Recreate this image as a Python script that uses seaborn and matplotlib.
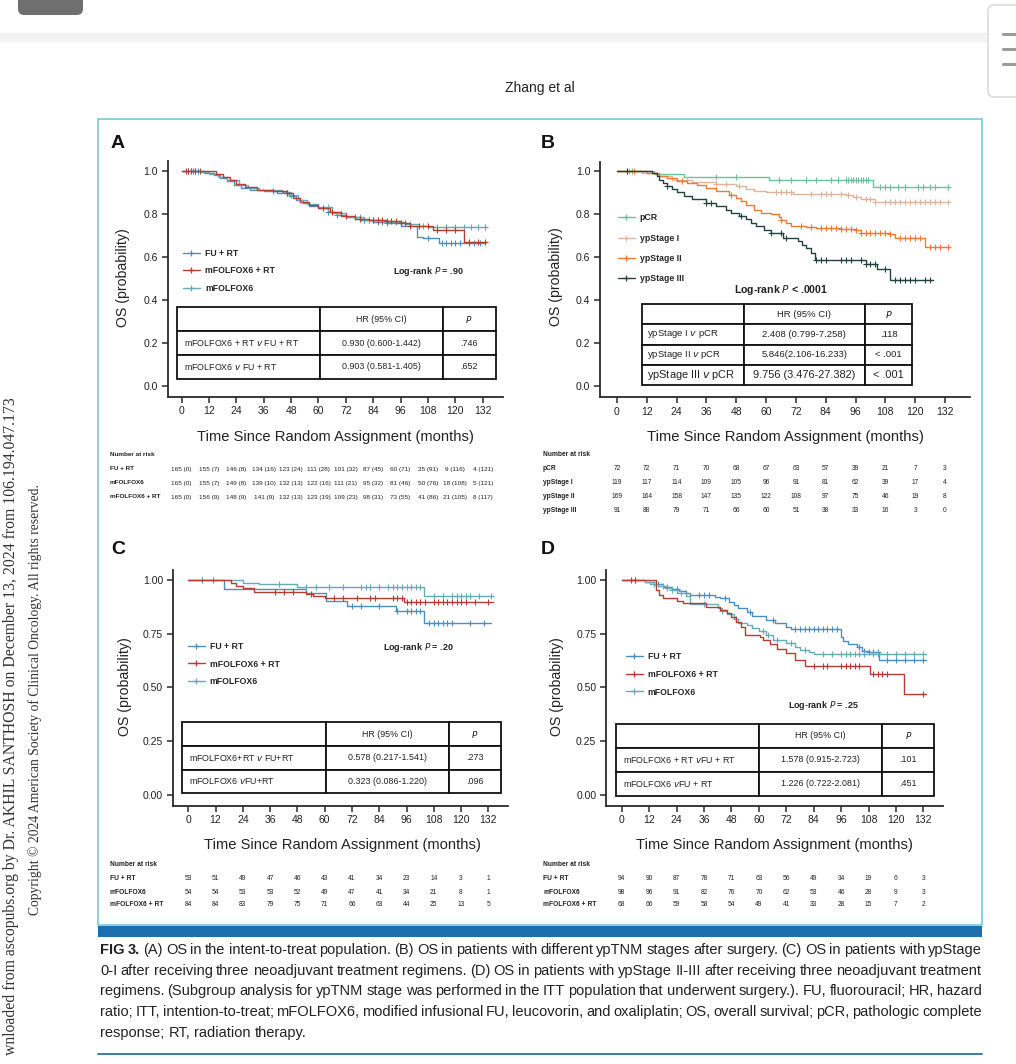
import numpy as np
import pandas as pd
import matplotlib
matplotlib.use("Agg")
import matplotlib.pyplot as plt
import seaborn as sns
from matplotlib import font_manager
from matplotlib.lines import Line2D
from matplotlib.patches import Rectangle, FancyBboxPatch
from matplotlib.transforms import blended_transform_factory

sns.set_style("ticks")
_names = {f.name for f in font_manager.fontManager.ttflist}
SANS = "Liberation Sans" if "Liberation Sans" in _names else "DejaVu Sans"
NARROW = "Liberation Sans Narrow" if "Liberation Sans Narrow" in _names else SANS
SERIF = "Liberation Serif" if "Liberation Serif" in _names else "DejaVu Serif"
plt.rcParams["font.family"] = [SANS, "DejaVu Sans"]

W, H = 1016, 1064
MONTH_TICKS = [0, 12, 24, 36, 48, 60, 72, 84, 96, 108, 120, 132]

# colours
C_FU_RT = "#4d8ec0"
C_MF6_RT = "#b23f36"
C_MF6 = "#68abb4"
C_PCR = "#6cc29f"
C_YP1 = "#ddb59d"
C_YP2 = "#ee7a3a"
C_YP3 = "#23443e"

# ---------------- Panel A: ITT population ----------------
A_FU_RT_T = [0, 10, 14, 17, 20, 23, 26, 30, 36, 42, 47, 50, 53, 56, 60, 64, 68, 72, 78, 84, 90, 96, 103, 106, 113, 133]
A_FU_RT_S = [1.0, 0.99, 0.98, 0.965, 0.95, 0.935, 0.92, 0.91, 0.905, 0.895, 0.88, 0.865, 0.85, 0.835, 0.825,
             0.81, 0.795, 0.785, 0.77, 0.762, 0.755, 0.745, 0.69, 0.685, 0.663, 0.663]
A_FU_RT_CENS = [3, 5, 7, 40, 46, 64, 68, 76, 80, 82, 86, 88, 90, 108, 114, 116, 118, 120, 122, 126, 128, 131]

A_MF6_RT_T = [0, 15, 18, 21, 24, 28, 33, 40, 46, 49, 52, 56, 60, 65, 70, 76, 82, 90, 96, 100, 110, 124, 134]
A_MF6_RT_S = [1.0, 0.985, 0.97, 0.955, 0.94, 0.925, 0.91, 0.905, 0.895, 0.875, 0.855, 0.84, 0.825, 0.81, 0.79,
              0.775, 0.77, 0.765, 0.755, 0.745, 0.725, 0.668, 0.668]
A_MF6_RT_CENS = [2, 3, 4, 6, 8, 46, 62, 66, 72, 78, 84, 86, 88, 90, 92, 94, 96, 98, 100, 104, 108, 112, 116,
                 120, 126, 130, 133]

A_MF6_T = [0, 8, 12, 16, 20, 25, 29, 34, 44, 48, 51, 55, 60, 66, 72, 80, 88, 98, 104, 108, 134]
A_MF6_S = [1.0, 0.995, 0.985, 0.97, 0.955, 0.935, 0.92, 0.91, 0.9, 0.885, 0.865, 0.845, 0.83, 0.805, 0.785,
           0.77, 0.76, 0.75, 0.745, 0.737, 0.737]
A_MF6_CENS = [4, 6, 48, 64, 70, 78, 82, 84, 86, 90, 94, 100, 106, 112, 116, 120, 124, 127, 130, 133]

A_HR_ROWS = [["mFOLFOX6 + RT $v$ FU + RT", "0.930 (0.600-1.442)", ".746"],
             ["mFOLFOX6 $v$ FU + RT", "0.903 (0.581-1.405)", ".652"]]
A_LOGRANK = "Log-rank $P$ = .90"
A_RISK_LABELS = ["FU + RT", "mFOLFOX6", "mFOLFOX6 + RT"]
A_RISK = [
    ["165 (0)", "155 (7)", "146 (8)", "134 (16)", "123 (24)", "111 (28)", "101 (32)", "87 (45)", "60 (71)",
     "35 (91)", "9 (116)", "4 (121)"],
    ["165 (0)", "155 (7)", "149 (8)", "139 (10)", "132 (13)", "122 (16)", "111 (21)", "95 (32)", "81 (46)",
     "50 (76)", "18 (108)", "5 (121)"],
    ["165 (0)", "156 (9)", "148 (9)", "141 (9)", "132 (13)", "123 (19)", "109 (23)", "98 (31)", "73 (55)",
     "41 (86)", "21 (105)", "8 (117)"],
]

# ---------------- Panel B: ypTNM stages ----------------
B_PCR_T = [0, 15, 27, 61, 103, 134]
B_PCR_S = [1.0, 0.986, 0.972, 0.958, 0.927, 0.927]
B_PCR_CENS = [6, 40, 48, 65, 70, 76, 80, 86, 89, 92, 93, 94, 95, 96, 97, 98, 99, 100, 101, 106, 108, 110,
              113, 116, 121, 123, 126, 128, 133]

B_YP1_T = [0, 10, 16, 22, 30, 40, 48, 52, 55, 60, 71, 92, 95, 98, 104, 134]
B_YP1_S = [1.0, 0.99, 0.975, 0.96, 0.947, 0.94, 0.93, 0.915, 0.905, 0.9, 0.895, 0.888, 0.878, 0.868, 0.855, 0.855]
B_YP1_CENS = [5, 28, 40, 44, 49, 64, 66, 68, 70, 78, 82, 84, 86, 90, 93, 96, 100, 102, 104, 108, 110, 112,
              114, 116, 118, 120, 122, 124, 126, 128, 130, 133]

B_YP2_T = [0, 12, 17, 20, 24, 28, 32, 36, 40, 45, 48, 50, 52, 55, 58, 62, 65, 66, 68, 70, 76, 80, 90, 96,
           98, 110, 112, 124, 134]
B_YP2_S = [1.0, 0.99, 0.975, 0.965, 0.955, 0.945, 0.935, 0.92, 0.905, 0.89, 0.875, 0.86, 0.84, 0.82, 0.805,
           0.8, 0.785, 0.77, 0.76, 0.745, 0.74, 0.735, 0.73, 0.725, 0.71, 0.705, 0.69, 0.648, 0.648]
B_YP2_CENS = [7, 26, 46, 66, 74, 78, 82, 84, 86, 88, 90, 92, 94, 96, 98, 100, 102, 104, 106, 108, 110, 114,
              116, 118, 120, 122, 126, 128, 130, 133]

B_YP3_T = [0, 14, 16, 17, 18.5, 20, 22, 24, 27, 30, 36, 40, 44, 46, 49, 52, 54, 56, 59, 62, 67, 73, 74.5,
           76, 78, 79.5, 100, 104.5, 110, 127]
B_YP3_S = [1.0, 0.99, 0.975, 0.96, 0.945, 0.93, 0.915, 0.9, 0.885, 0.868, 0.85, 0.835, 0.82, 0.805, 0.79,
           0.775, 0.76, 0.745, 0.725, 0.71, 0.688, 0.675, 0.655, 0.64, 0.62, 0.586, 0.565, 0.543, 0.493, 0.493]
B_YP3_CENS = [4, 20, 36, 38, 50, 62, 66, 68, 80, 82, 84, 90, 92, 94, 98, 100, 102, 104, 108, 112, 114, 116,
              118, 120, 124, 126]

B_HR_ROWS = [["ypStage I $v$ pCR", "2.408 (0.799-7.258)", ".118"],
             ["ypStage II $v$ pCR", "5.846(2.106-16.233)", "< .001"],
             ["ypStage III $v$ pCR", "9.756 (3.476-27.382)", "< .001"]]
B_LOGRANK = "Log-rank $P$ < .0001"
B_RISK_LABELS = ["pCR", "ypStage I", "ypStage II", "ypStage III"]
B_RISK = [
    [72, 72, 71, 70, 68, 67, 63, 57, 39, 21, 7, 3],
    [119, 117, 114, 109, 105, 96, 91, 81, 62, 39, 17, 4],
    [169, 164, 158, 147, 135, 122, 108, 97, 75, 46, 19, 8],
    [91, 88, 79, 71, 66, 60, 51, 38, 33, 16, 3, 0],
]

# ---------------- Panel C: ypStage 0-I ----------------
C_FU_RT_T = [0, 15.5, 52, 60.5, 70, 91.5, 103.5, 133]
C_FU_RT_S = [1.0, 0.957, 0.936, 0.9, 0.876, 0.856, 0.8, 0.8]
C_FU_RT_CENS = [6, 11, 72, 76, 84, 92, 96, 98, 100, 102, 106, 108, 110, 112, 114, 116, 124, 130]

C_MF6_RT_T = [0, 19, 21, 24, 29, 52, 55, 60, 95, 134]
C_MF6_RT_S = [1.0, 0.985, 0.972, 0.96, 0.944, 0.932, 0.922, 0.913, 0.898, 0.898]
C_MF6_RT_CENS = [38, 42, 46, 54, 64, 68, 74, 80, 82, 90, 92, 94, 96, 98, 100, 102, 104, 108, 110, 112, 114,
                 116, 118, 120, 122, 126, 132]

C_MF6_T = [0, 24, 31, 48, 103.5, 134]
C_MF6_S = [1.0, 0.986, 0.98, 0.967, 0.924, 0.924]
C_MF6_CENS = [40, 52, 56, 62, 68, 76, 78, 80, 84, 88, 90, 92, 94, 96, 98, 100, 102, 108, 112, 116, 118, 120,
              122, 124, 128, 133]

C_HR_ROWS = [["mFOLFOX6+RT $v$ FU+RT", "0.578 (0.217-1.541)", ".273"],
             ["mFOLFOX6 $v$FU+RT", "0.323 (0.086-1.220)", ".096"]]
C_LOGRANK = "Log-rank $P$ = .20"
C_RISK_LABELS = ["FU + RT", "mFOLFOX6", "mFOLFOX6 + RT"]
C_RISK = [
    [53, 51, 49, 47, 46, 43, 41, 34, 23, 14, 3, 1],
    [54, 54, 53, 53, 52, 49, 47, 41, 34, 21, 8, 1],
    [84, 84, 83, 79, 75, 71, 66, 63, 44, 25, 13, 5],
]

# ---------------- Panel D: ypStage II-III ----------------
D_FU_RT_T = [0, 10, 14, 18, 22, 25, 28, 30, 41, 43, 47, 49, 51, 55, 57, 63, 67, 72, 74, 96, 97, 99, 103,
             105, 108, 112.5, 133]
D_FU_RT_S = [1.0, 0.988, 0.978, 0.967, 0.956, 0.946, 0.937, 0.93, 0.92, 0.913, 0.897, 0.883, 0.867, 0.851,
             0.831, 0.813, 0.797, 0.782, 0.769, 0.735, 0.715, 0.7, 0.689, 0.669, 0.662, 0.627, 0.627]
D_FU_RT_CENS = [6, 16, 20, 24, 28, 34, 36, 38, 45, 56, 66, 76, 78, 80, 82, 84, 86, 88, 90, 92, 94, 104, 106,
                108, 110, 112, 116, 120, 124, 128, 132]

D_MF6_RT_T = [0, 15, 16.5, 18, 24, 27, 37, 43, 46, 48, 50, 52, 54, 60.5, 62, 65, 68, 72, 76, 80, 108.5,
              123.5, 133]
D_MF6_RT_S = [1.0, 0.952, 0.93, 0.913, 0.9, 0.89, 0.875, 0.86, 0.845, 0.828, 0.805, 0.78, 0.745, 0.735, 0.72,
              0.7, 0.68, 0.66, 0.628, 0.6, 0.562, 0.469, 0.469]
D_MF6_RT_CENS = [4, 6, 84, 88, 90, 96, 98, 100, 102, 104, 110, 112, 114, 116, 132]

D_MF6_T = [0, 10, 12.5, 16, 20, 22, 24, 28, 30, 42, 44, 46, 49, 51, 55, 57, 60, 63, 66, 72, 76, 78, 82, 84, 133]
D_MF6_S = [1.0, 0.99, 0.982, 0.97, 0.96, 0.95, 0.94, 0.925, 0.885, 0.87, 0.855, 0.84, 0.816, 0.8, 0.79,
           0.774, 0.76, 0.743, 0.72, 0.704, 0.686, 0.673, 0.662, 0.655, 0.655]
D_MF6_CENS = [14, 18, 20, 22, 26, 36, 44, 50, 62, 64, 68, 74, 80, 88, 92, 96, 98, 100, 102, 104, 106, 110,
              112, 116, 120, 124, 128, 132]

D_HR_ROWS = [["mFOLFOX6 + RT $v$FU + RT", "1.578 (0.915-2.723)", ".101"],
             ["mFOLFOX6 $v$FU + RT", "1.226 (0.722-2.081)", ".451"]]
D_LOGRANK = "Log-rank $P$ = .25"
D_RISK_LABELS = ["FU + RT", "mFOLFOX6", "mFOLFOX6 + RT"]
D_RISK = [
    [94, 90, 87, 78, 71, 63, 56, 49, 34, 19, 6, 3],
    [98, 96, 91, 82, 76, 70, 62, 53, 46, 28, 9, 3],
    [68, 66, 59, 58, 54, 49, 41, 33, 28, 15, 7, 2],
]

TRIO_LABELS = ["FU + RT", "mFOLFOX6 + RT", "mFOLFOX6"]
STAGE_LABELS = ["pCR", "ypStage I", "ypStage II", "ypStage III"]

CAPTION = [
    "FIG 3. (A) OS in the intent-to-treat population. (B) OS in patients with different ypTNM stages after surgery. (C) OS in patients with ypStage",
    "0-I after receiving three neoadjuvant treatment regimens. (D) OS in patients with ypStage II-III after receiving three neoadjuvant treatment",
    "regimens. (Subgroup analysis for ypTNM stage was performed in the ITT population that underwent surgery.). FU, fluorouracil; HR, hazard",
    "ratio; ITT, intention-to-treat; mFOLFOX6, modified infusional FU, leucovorin, and oxaliplatin; OS, overall survival; pCR, pathologic complete",
    "response; RT, radiation therapy.",
]
SIDE_1 = "wnloaded from ascopubs.org by Dr. AKHIL SANTHOSH on December 13, 2024 from 106.194.047.173"
SIDE_2 = "Copyright \u00a9 2024 American Society of Clinical Oncology. All rights reserved."

fig = plt.figure(figsize=(W / 100, H / 100), dpi=100)
fig.patch.set_facecolor("white")


def fx(px):
    return px / W


def fy(py):
    return 1 - py / H


def px_axes(left, top, right, bottom):
    return fig.add_axes([fx(left), fy(bottom), (right - left) / W, (bottom - top) / H])


def km(ax, t, s, cens, color):
    df = pd.DataFrame({"t": t, "s": s})
    sns.lineplot(data=df, x="t", y="s", drawstyle="steps-post", color=color, lw=1.0,
                 estimator=None, sort=False, legend=False, ax=ax)
    idx = np.searchsorted(np.asarray(t), np.asarray(cens), side="right") - 1
    ax.plot(cens, np.asarray(s)[idx], ls="none", marker="+", ms=4, mew=0.8, color=color)


def style_axes(ax, xlim, ylim, yticks, yfmt):
    ax.set_xlim(*xlim)
    ax.set_ylim(*ylim)
    ax.set_xticks(MONTH_TICKS)
    ax.set_yticks(yticks)
    ax.set_yticklabels([yfmt.format(v) for v in yticks])
    ax.set_xlabel("")
    ax.set_ylabel("")
    for side in ["top", "right"]:
        ax.spines[side].set_visible(False)
    for side in ["left", "bottom"]:
        ax.spines[side].set_linewidth(1.3)
        ax.spines[side].set_color("#2a2a2a")
    ax.tick_params(direction="out", length=4, width=1.1, color="#2a2a2a", labelsize=7.5,
                   labelcolor="#222222", pad=3)
    ax.patch.set_alpha(0)


def hr_table(ax, rows, bbox, col_w, fs=6.0, last_fs=None):
    cells = [["", "HR (95% CI)", "$P$"]] + rows
    tb = ax.table(cellText=cells, colWidths=col_w, bbox=bbox, cellLoc="center")
    tb.auto_set_font_size(False)
    tb.set_fontsize(fs)
    nrow = len(cells)
    for (r, c), cell in tb.get_celld().items():
        cell.set_linewidth(1.3)
        cell.set_edgecolor("#111111")
        cell.set_facecolor("white")
        cell.get_text().set_color("#222222")
        if c == 0:
            cell.get_text().set_horizontalalignment("left")
            cell.PAD = 0.05
        if last_fs and r == nrow - 1:
            cell.get_text().set_fontsize(last_fs)
    return tb


def legend(ax, colors, labels, anchor, spacing):
    handles = [Line2D([], [], color=c, lw=1.0, marker="+", ms=5, mew=0.9) for c in colors]
    ax.legend(handles, labels, loc="center left", bbox_to_anchor=anchor, frameon=False,
              prop={"weight": "bold", "size": 6.3, "family": SANS}, handlelength=1.9,
              handletextpad=0.6, labelspacing=spacing, borderpad=0, borderaxespad=0)


def risk_table(ax, labels, rows, y_px, x_px, fs):
    trans = blended_transform_factory(ax.transData, fig.transFigure)
    fig.text(fx(x_px), fy(y_px[0]), "Number at risk", fontsize=fs, weight="bold", va="center",
             color="#222222")
    for lab, vals, y in zip(labels, rows, y_px[1:]):
        fig.text(fx(x_px), fy(y), lab, fontsize=fs, weight="bold", va="center", color="#222222")
        for t, v in zip(MONTH_TICKS, vals):
            ax.text(t, fy(y), str(v), transform=trans, ha="center", va="center", fontsize=fs,
                    color="#222222")


# ---------------- page decorations ----------------
fig.patches.append(FancyBboxPatch((fx(18), fy(15)), 65 / W, 30 / H, boxstyle="round,pad=0,rounding_size=0.006",
                                  transform=fig.transFigure, facecolor="#6f6f6f", edgecolor="none"))
fig.patches.append(Rectangle((0, fy(42)), 1, 9 / H, transform=fig.transFigure, facecolor="#f3f3f3",
                             edgecolor="none"))
fig.patches.append(FancyBboxPatch((fx(988), fy(97)), 40 / W, 92 / H, boxstyle="round,pad=0,rounding_size=0.006",
                                  transform=fig.transFigure, facecolor="white", edgecolor="#dcdcdc", lw=1.2))
for yy in [34, 49, 64]:
    fig.lines.append(Line2D([fx(1003), fx(1016)], [fy(yy), fy(yy)], transform=fig.transFigure,
                            color="#9b9b9b", lw=2.2))
fig.text(fx(540), fy(88), "Zhang et al", fontsize=10, family=NARROW, ha="center", va="center",
         color="#222222")

fig.patches.append(Rectangle((fx(98), fy(925)), 884 / W, 806 / H, transform=fig.transFigure,
                             facecolor="none", edgecolor="#86cbd9", lw=1.3))
fig.patches.append(Rectangle((fx(98), fy(937)), 884 / W, 11 / H, transform=fig.transFigure,
                             facecolor="#1c6fae", edgecolor="none"))
fig.lines.append(Line2D([fx(98), fx(982)], [fy(1054), fy(1054)], transform=fig.transFigure,
                        color="#3d7aa5", lw=1.4))

# ---------------- panels ----------------
ax_a = px_axes(167.7, 160.7, 503, 396.7)
ax_b = px_axes(600, 161.7, 970, 397.3)
ax_c = px_axes(172.7, 570, 508, 805.7)
ax_d = px_axes(606, 570, 943.3, 805.7)

km(ax_a, A_FU_RT_T, A_FU_RT_S, A_FU_RT_CENS, C_FU_RT)
km(ax_a, A_MF6_T, A_MF6_S, A_MF6_CENS, C_MF6)
km(ax_a, A_MF6_RT_T, A_MF6_RT_S, A_MF6_RT_CENS, C_MF6_RT)
style_axes(ax_a, (-6.1, 140.9), (-0.05, 1.046), [0, 0.2, 0.4, 0.6, 0.8, 1.0], "{:.1f}")
legend(ax_a, [C_FU_RT, C_MF6_RT, C_MF6], TRIO_LABELS, (0.046, 0.533), 0.95)
hr_table(ax_a, A_HR_ROWS, [0.027, 0.076, 0.951, 0.3025], [0.449, 0.385, 0.166], fs=6.4)

km(ax_b, B_PCR_T, B_PCR_S, B_PCR_CENS, C_PCR)
km(ax_b, B_YP1_T, B_YP1_S, B_YP1_CENS, C_YP1)
km(ax_b, B_YP2_T, B_YP2_S, B_YP2_CENS, C_YP2)
km(ax_b, B_YP3_T, B_YP3_S, B_YP3_CENS, C_YP3)
style_axes(ax_b, (-6.84, 142.05), (-0.0526, 1.043), [0, 0.2, 0.4, 0.6, 0.8, 1.0], "{:.1f}")
legend(ax_b, [C_PCR, C_YP1, C_YP2, C_YP3], STAGE_LABELS, (0.0486, 0.632), 1.3)
hr_table(ax_b, B_HR_ROWS, [0.1127, 0.052, 0.731, 0.344], [0.378, 0.447, 0.175], fs=6.8, last_fs=7.9)

km(ax_c, C_FU_RT_T, C_FU_RT_S, C_FU_RT_CENS, C_FU_RT)
km(ax_c, C_MF6_T, C_MF6_S, C_MF6_CENS, C_MF6)
km(ax_c, C_MF6_RT_T, C_MF6_RT_S, C_MF6_RT_CENS, C_MF6_RT)
style_axes(ax_c, (-6.86, 140.65), (-0.0497, 1.045), [0, 0.25, 0.5, 0.75, 1.0], "{:.2f}")
legend(ax_c, [C_FU_RT, C_MF6_RT, C_MF6], TRIO_LABELS, (0.0456, 0.601), 0.95)
hr_table(ax_c, C_HR_ROWS, [0.0286, 0.0526, 0.95, 0.301], [0.451, 0.385, 0.164], fs=6.4)

km(ax_d, D_FU_RT_T, D_FU_RT_S, D_FU_RT_CENS, C_FU_RT)
km(ax_d, D_MF6_T, D_MF6_S, D_MF6_CENS, C_MF6)
km(ax_d, D_MF6_RT_T, D_MF6_RT_S, D_MF6_RT_CENS, C_MF6_RT)
style_axes(ax_d, (-6.87, 140.7), (-0.0497, 1.045), [0, 0.25, 0.5, 0.75, 1.0], "{:.2f}")
legend(ax_d, [C_FU_RT, C_MF6_RT, C_MF6], TRIO_LABELS, (0.059, 0.5575), 1.0)
hr_table(ax_d, D_HR_ROWS, [0.0288, 0.0424, 0.9446, 0.304], [0.451, 0.385, 0.164], fs=6.4)

# panel letters, axis titles, log-rank notes
for letter, (x, y) in zip("ABCD", [(118, 143), (548, 143), (118, 550), (548, 550)]):
    fig.text(fx(x), fy(y), letter, fontsize=14, weight="bold", ha="center", va="center", color="#111111")
for x, y in [(123, 278), (556, 277), (125, 687), (557, 687)]:
    fig.text(fx(x), fy(y), "OS (probability)", fontsize=10.2, family=NARROW, rotation=90,
             ha="center", va="center", color="#222222")
for x, y in [(335, 437), (785, 437), (342, 845), (774, 845)]:
    fig.text(fx(x), fy(y), "Time Since Random Assignment (months)", fontsize=10.6, family=NARROW,
             ha="center", va="center", color="#222222")
fig.text(fx(428), fy(271), A_LOGRANK, fontsize=6.5, weight="bold", ha="center", va="center", color="#222222")
fig.text(fx(781), fy(290), B_LOGRANK, fontsize=7.6, weight="bold", ha="center", va="center", color="#222222")
fig.text(fx(418), fy(648), C_LOGRANK, fontsize=6.5, weight="bold", ha="center", va="center", color="#222222")
fig.text(fx(823), fy(705), D_LOGRANK, fontsize=6.5, weight="bold", ha="center", va="center", color="#222222")

# number-at-risk tables
risk_table(ax_a, A_RISK_LABELS, A_RISK, [455, 469, 483, 497], 110, 4.6)
risk_table(ax_b, B_RISK_LABELS, B_RISK, [455, 469, 483, 497, 511], 543, 4.8)
risk_table(ax_c, C_RISK_LABELS, C_RISK, [864.5, 879, 892, 905], 110, 4.8)
risk_table(ax_d, D_RISK_LABELS, D_RISK, [864.5, 879, 892, 905], 543, 4.8)

# side watermark
fig.text(fx(11), fy(397), SIDE_1, fontsize=11.3, family=SERIF, rotation=90, ha="center", va="top",
         color="#333333")
fig.text(fx(35), fy(700), SIDE_2, fontsize=9.8, family=SERIF, rotation=90, ha="center", va="center",
         color="#333333")

# caption, justified between the figure edges; font shrunk until the longest line fits
renderer = fig.canvas.get_renderer()
CAP_Y = [950, 970.7, 991.3, 1012, 1033]
CAP_SIZE = 11.0
cap_arts = []
for i, (line, y) in enumerate(zip(CAPTION, CAP_Y)):
    arts = []
    for j, w in enumerate(line.split(" ")):
        bold = i == 0 and j < 2
        arts.append(fig.text(0, fy(y), w, fontsize=CAP_SIZE, family=NARROW, va="center", ha="left",
                             weight="bold" if bold else "normal", color="#222222"))
    cap_arts.append(arts)

fit = min((882 - 3.2 * (len(a) - 1)) / sum(t.get_window_extent(renderer).width for t in a)
          for a in cap_arts[:-1])
size = CAP_SIZE * min(fit, 1.0)
for i, arts in enumerate(cap_arts):
    for t in arts:
        t.set_fontsize(size)
    widths = [t.get_window_extent(renderer).width for t in arts]
    if i == len(cap_arts) - 1:
        gap = size * 100 / 72 * 0.28
    else:
        gap = (882 - sum(widths)) / (len(arts) - 1)
    x = 100
    for t, wd in zip(arts, widths):
        t.set_x(fx(x))
        x += wd + gap

fig.savefig("out.png", dpi=100)
